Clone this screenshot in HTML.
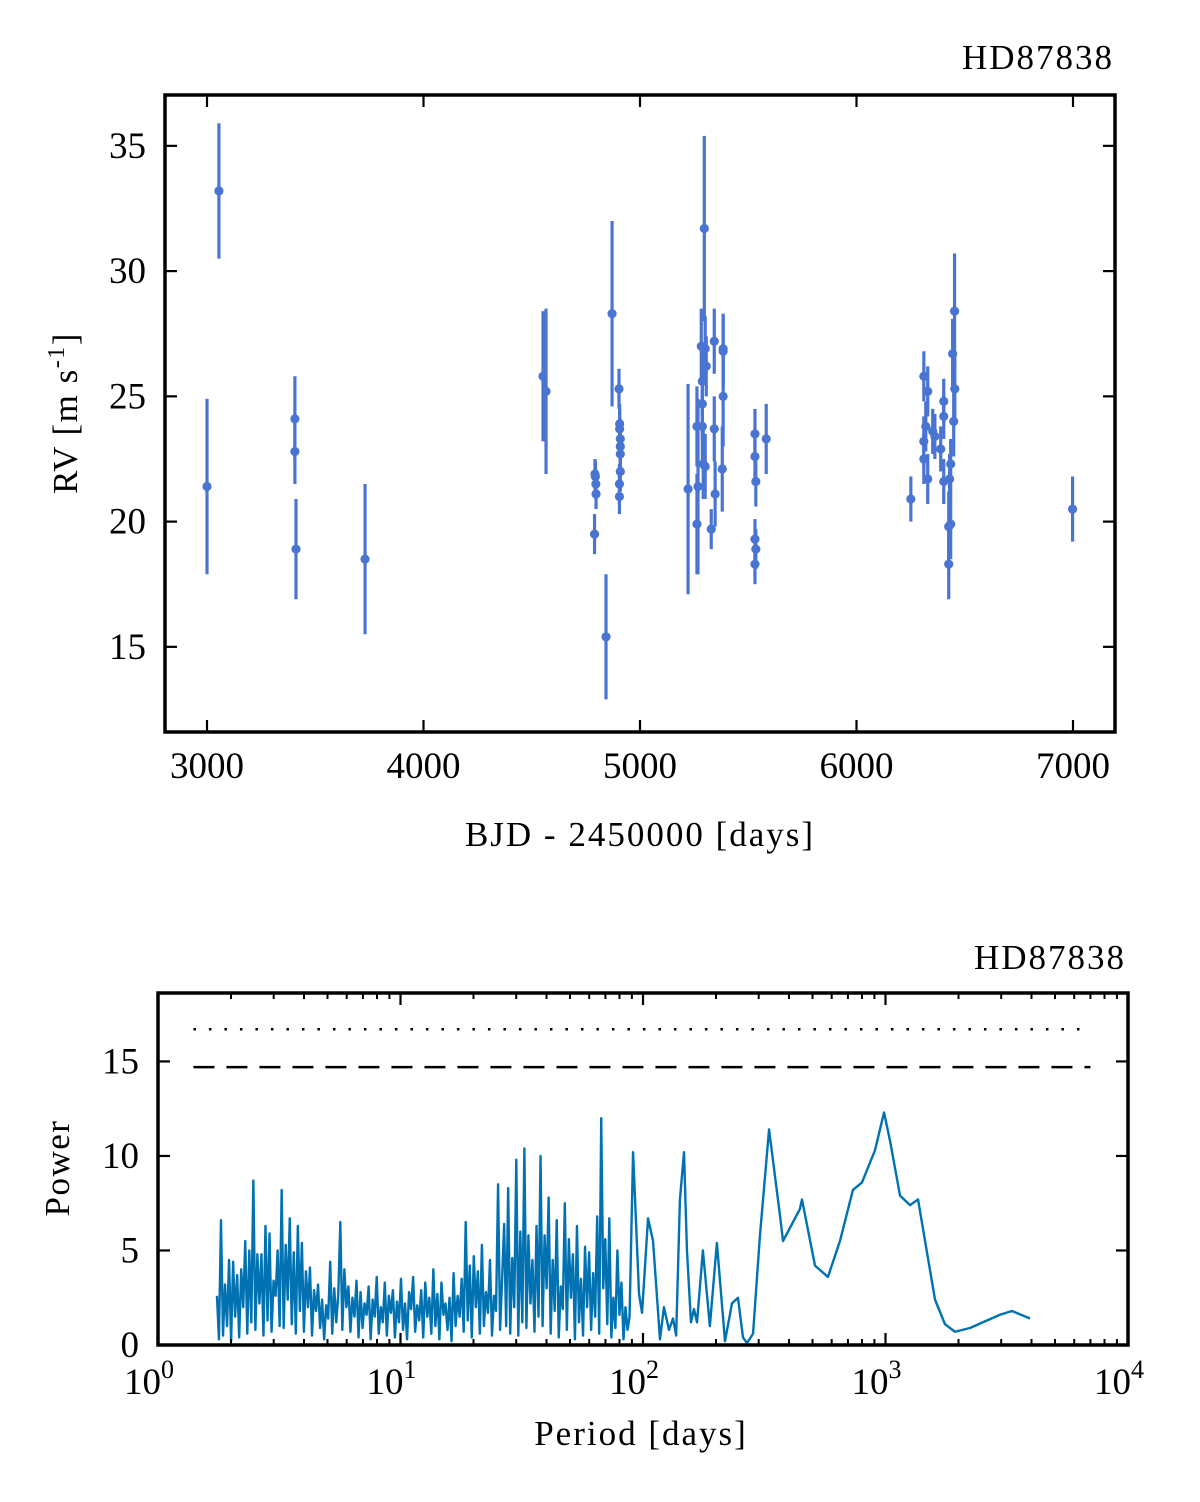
<!DOCTYPE html>
<html><head><meta charset="utf-8"><style>
html,body{margin:0;padding:0;background:#fff;}
svg{display:block;font-family:"Liberation Serif",serif;}
</style></head><body>
<svg id="fig" width="1200" height="1502" viewBox="0 0 1200 1502">
<g id="topPanel"></g>
<g id="botPanel"></g>
</svg>
<script>
// ---- RV data ----
const rvDays=[3000,3055,3406,3406,3411,3730,4552,4566,4792,4794,4796,4797,4790,4843,4871,4903,4906,4906,4909,4909,4909,4909,4905,4905,5222,5263,5263,5268,5283,5288,5288,5288,5292,5297,5301,5306,5301,5329,5343,5343,5347,5384,5384,5384,5380,5531,5531,5535,5531,5535,5531,5583,6251,6311,6329,6320,6311,6311,6329,6352,6362,6389,6403,6403,6403,6435,6430,6426,6426,6435,6453,6444,6449,6454,6998];
const rvVals=[21.4,33.2,24.1,22.8,18.9,18.5,25.8,25.2,21.9,21.8,21.5,21.1,19.5,15.4,28.3,25.3,23.9,23.7,23.3,23.0,22.7,22.0,21.5,21.0,21.3,23.8,19.9,21.4,27.0,25.6,24.7,23.8,22.3,31.7,26.9,26.2,22.2,19.7,27.2,23.7,21.1,26.9,26.8,25.0,22.1,23.5,22.6,21.6,19.3,18.9,18.3,23.3,20.9,25.8,25.2,23.8,23.2,22.5,21.7,23.6,23.4,22.9,21.6,24.2,24.8,22.3,21.7,19.8,18.3,19.9,28.4,26.7,24.0,25.3,20.5];
const rvErrs=[3.5,2.7,1.7,1.3,2.0,3.0,2.6,3.3,0.6,0.6,0.6,0.6,0.8,2.5,3.7,0.8,0.8,0.8,0.8,0.8,0.8,0.8,0.8,0.7,4.2,1.6,2.0,3.5,1.5,1.4,1.4,1.4,1.4,3.7,1.3,1.2,1.3,0.8,1.3,1.3,1.3,1.4,1.4,2.0,1.7,1.0,1.0,1.0,0.8,0.8,0.8,1.4,0.9,1.0,1.0,1.0,1.0,1.0,1.0,0.9,0.9,0.9,0.9,0.9,0.9,1.0,1.0,1.4,1.4,1.4,2.3,1.4,1.4,1.4,1.3];
const rvXTicks=[3000,4000,5000,6000,7000];
const rvYTicks=[15,20,25,30,35];
// ---- periodogram data ----
const noiseStartP=1.75, noiseEndP=88;
const noisePower=[2.6,0.3,6.6,0.5,3.2,1.0,4.5,0.2,4.4,1.5,3.7,0.4,4.0,2.0,5.5,0.6,5.0,1.2,8.7,0.8,4.8,
2.2,4.8,0.5,6.3,1.3,5.9,0.7,3.4,2.6,5.0,1.0,8.2,0.9,5.3,2.4,6.7,1.1,4.9,0.6,6.3,
1.8,5.4,0.7,3.9,2.0,4.1,0.5,2.9,1.8,3.2,0.9,2.4,0.3,2.1,1.4,4.4,0.6,3.0,1.2,2.7,
6.5,0.8,4.0,2.0,3.1,0.7,2.5,1.5,3.4,0.4,2.8,0.9,2.2,1.6,3.1,0.3,2.4,1.5,3.6,0.6,
2.0,1.2,3.3,0.5,2.6,1.7,2.9,0.4,2.3,1.2,3.5,0.8,2.2,0.3,2.8,1.9,3.6,0.7,2.1,1.3,
2.9,0.4,3.3,1.5,2.5,0.6,4.0,1.0,2.7,0.3,3.3,1.6,2.2,0.8,2.5,0.2,3.8,1.0,2.6,1.5,
3.5,0.7,6.5,1.3,4.2,0.4,4.7,2.0,3.9,0.6,5.3,1.0,2.8,1.7,4.5,0.5,2.6,1.8,8.5,0.8,
3.5,6.4,1.0,8.3,0.6,4.6,2.0,9.8,0.5,6.0,1.2,10.4,0.9,5.8,2.2,4.5,0.7,6.3,1.5,10.0,
1.0,5.8,3.0,7.8,0.6,4.5,1.8,6.6,0.4,3.1,1.9,7.5,0.8,5.6,2.5,4.8,0.3,6.3,1.2,3.5,
0.5,5.2,2.0,4.9,0.8,3.8,1.5,6.8,0.6,12.0,3.0,5.6,1.1,6.7,0.4,2.5,0.9,5.0,1.6,3.3,0.3,2.0,0.8,1.5];
const smoothPeriods=[91,96.3,99.1,104.9,110,117.5,122,128,133,137,142,147.6,151.8,157.7,162.3,167,176.6,188.7,201.7,217.8,232.8,246.4,258.4,268.4,284.3,303.6,331,367.6,378,443.8,452.5,512,579,649,734,800,905,986,1044,1148,1262,1362,1456,1600,1759,1935,2230,2965,3323,3945];
const smoothPower=[10.2,2.7,1.7,6.7,5.5,0.3,2.0,0.8,1.4,0.5,7.7,10.2,5.0,1.2,1.9,1.2,5.0,1.0,5.4,0.2,2.2,2.5,0.4,0.1,0.6,5.8,11.4,6.8,5.5,7.2,7.7,4.2,3.6,5.5,8.2,8.6,10.3,12.3,10.8,7.9,7.4,7.7,5.5,2.4,1.1,0.7,0.9,1.6,1.8,1.4];
const fapLevels=[16.7,14.7];
const powerYTicks=[0,5,10,15];
const periodDecades=[0,1,2,3,4];

const NS='http://www.w3.org/2000/svg';
function mk(tag,attrs,parent){const e=document.createElementNS(NS,tag);for(const k in attrs)e.setAttribute(k,attrs[k]);parent.appendChild(e);return e;}
const topG=document.getElementById('topPanel'), botG=document.getElementById('botPanel');
const BLUE='#4a74d2', PBLUE='#0072b2';
const FS=37;

// ===== top panel =====
const T={l:165,r:1115,t:95,b:732,x0:2806,x1:7194,y0:11.6,y1:37.03};
const tx=v=>T.l+(v-T.x0)/(T.x1-T.x0)*(T.r-T.l);
const ty=v=>T.b-(v-T.y0)/(T.y1-T.y0)*(T.b-T.t);
for(let i=0;i<rvDays.length;i++){
  const x=tx(rvDays[i]);
  const eb=mk('line',{x1:x,x2:x,y1:ty(rvVals[i]-rvErrs[i]),y2:ty(rvVals[i]+rvErrs[i]),stroke:BLUE,'stroke-width':3.2},topG);
  
  
  const c=mk('circle',{cx:x,cy:ty(rvVals[i]),r:4.6,fill:BLUE},topG);
  
  
}
const tf=mk('rect',{x:T.l,y:T.t,width:T.r-T.l,height:T.b-T.t,fill:'none',stroke:'#000','stroke-width':3.5},topG);


rvXTicks.forEach(v=>{const x=tx(v);
  mk('line',{x1:x,x2:x,y1:T.b,y2:T.b-12,stroke:'#000','stroke-width':2.2},topG);
  mk('line',{x1:x,x2:x,y1:T.t,y2:T.t+12,stroke:'#000','stroke-width':2.2},topG);
  const t=mk('text',{x:x,y:T.b+46,'font-size':FS,'text-anchor':'middle'},topG);t.textContent=v;
  
  
});
rvYTicks.forEach(v=>{const y=ty(v);
  mk('line',{x1:T.l,x2:T.l+12,y1:y,y2:y,stroke:'#000','stroke-width':2.2},topG);
  mk('line',{x1:T.r,x2:T.r-12,y1:y,y2:y,stroke:'#000','stroke-width':2.2},topG);
  const t=mk('text',{x:T.l-19,y:y+12,'font-size':FS,'text-anchor':'end'},topG);t.textContent=v;
  
  
});

// ===== bottom panel =====
const B={l:158,r:1128,t:993,b:1345,y0:0,y1:18.62};
const bx=p=>B.l+Math.log10(p)/4*(B.r-B.l);
const by=v=>B.b-(v-B.y0)/(B.y1-B.y0)*(B.b-B.t);
let pts=[];
const n=noisePower.length, lA=Math.log10(noiseStartP), lB=Math.log10(noiseEndP);
for(let i=0;i<n;i++){const p=Math.pow(10,lA+(lB-lA)*i/(n-1));pts.push(bx(p).toFixed(2)+','+by(noisePower[i]).toFixed(2));}
for(let i=0;i<smoothPeriods.length;i++)pts.push(bx(smoothPeriods[i]).toFixed(2)+','+by(smoothPower[i]).toFixed(2));
const pl=mk('polyline',{points:pts.join(' '),fill:'none',stroke:PBLUE,'stroke-width':2.4,'stroke-linejoin':'round'},botG);


const fap1=mk('line',{x1:bx(1.4),x2:bx(7000),y1:by(fapLevels[0]),y2:by(fapLevels[0]),stroke:'#000','stroke-width':2.5,'stroke-dasharray':'2.5,13'},botG);


const fap2=mk('line',{x1:bx(1.4),x2:bx(7000),y1:by(fapLevels[1]),y2:by(fapLevels[1]),stroke:'#000','stroke-width':2.5,'stroke-dasharray':'21,12'},botG);


const bf=mk('rect',{x:B.l,y:B.t,width:B.r-B.l,height:B.b-B.t,fill:'none',stroke:'#000','stroke-width':3.5},botG);


periodDecades.forEach(d=>{
  const x=bx(Math.pow(10,d));
  mk('line',{x1:x,x2:x,y1:B.b,y2:B.b-12,stroke:'#000','stroke-width':2.2},botG);
  mk('line',{x1:x,x2:x,y1:B.t,y2:B.t+12,stroke:'#000','stroke-width':2.2},botG);
  if(d<4)for(let k=2;k<10;k++){const xm=bx(k*Math.pow(10,d));
    mk('line',{x1:xm,x2:xm,y1:B.b,y2:B.b-6,stroke:'#000','stroke-width':2},botG);
    mk('line',{x1:xm,x2:xm,y1:B.t,y2:B.t+6,stroke:'#000','stroke-width':2},botG);}
  const t=mk('text',{x:x-9,y:B.b+49,'font-size':FS,'text-anchor':'middle'},botG);
  
  
  t.textContent='10';
  const s=mk('tspan',{'font-size':26,dy:-16},t);s.textContent=d;
});
powerYTicks.forEach(v=>{const y=by(v);
  mk('line',{x1:B.l,x2:B.l+12,y1:y,y2:y,stroke:'#000','stroke-width':2.2},botG);
  mk('line',{x1:B.r,x2:B.r-12,y1:y,y2:y,stroke:'#000','stroke-width':2.2},botG);
  const t=mk('text',{x:B.l-19,y:y+12,'font-size':FS,'text-anchor':'end'},botG);t.textContent=v;
  
  
});
</script>
<div style="position:absolute;left:0;top:0;width:1200px;height:1502px;pointer-events:none;font-family:'Liberation Serif',serif;color:#000;">
  <div style="position:absolute;right:86px;top:38px;font-size:35px;letter-spacing:2px;">HD87838</div>
  <div style="position:absolute;left:65px;top:413px;font-size:35px;letter-spacing:1.5px;white-space:nowrap;transform:translate(-50%,-50%) rotate(-90deg);">RV [m s<sup style="font-size:24px">-1</sup>]</div>
  <div style="position:absolute;left:640px;top:815px;font-size:35px;letter-spacing:2px;white-space:nowrap;transform:translateX(-50%);">BJD - 2450000 [days]</div>
  <div style="position:absolute;right:74px;top:938px;font-size:35px;letter-spacing:2px;">HD87838</div>
  <div style="position:absolute;left:58px;top:1168px;font-size:35px;letter-spacing:1.5px;white-space:nowrap;transform:translate(-50%,-50%) rotate(-90deg);">Power</div>
  <div style="position:absolute;left:641px;top:1414px;font-size:35px;letter-spacing:2px;white-space:nowrap;transform:translateX(-50%);">Period [days]</div>
</div>
</body></html>
